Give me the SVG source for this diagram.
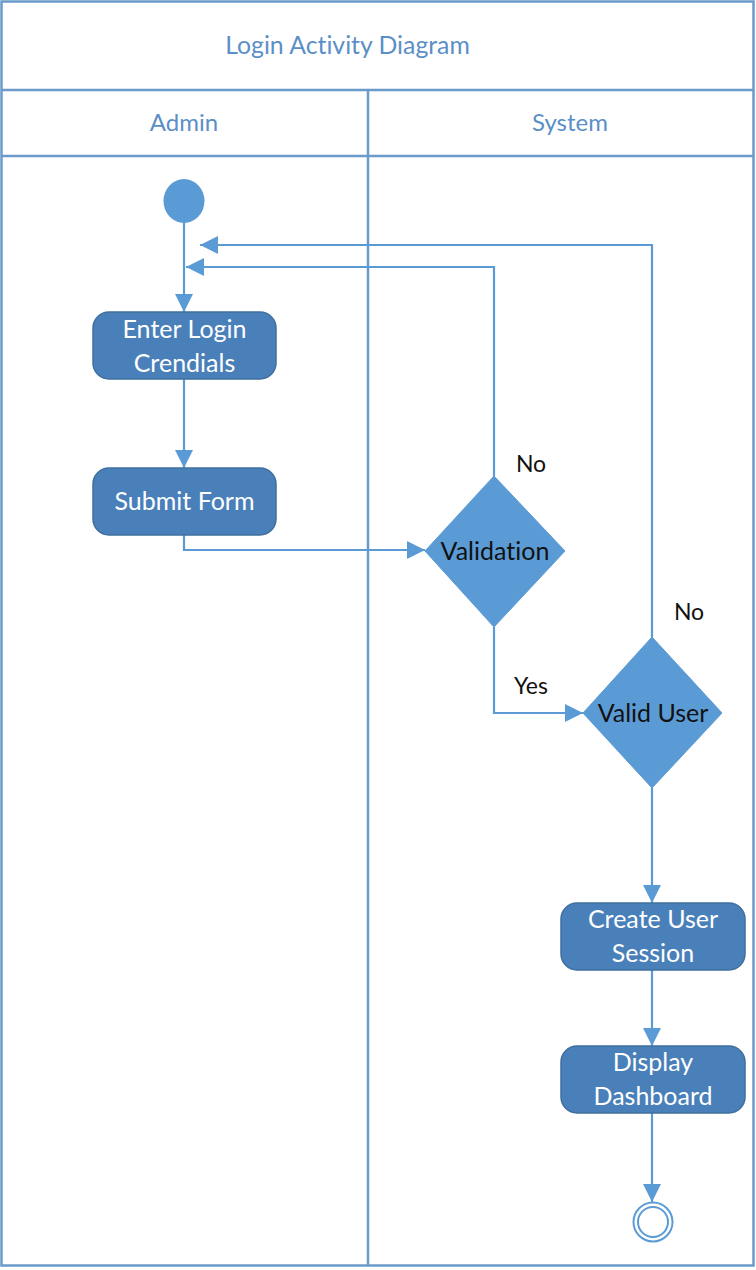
<svg xmlns="http://www.w3.org/2000/svg" width="756" height="1270" viewBox="0 0 756 1270">
<defs>
<style>
text{font-variant-ligatures:none}
.frame{fill:none;stroke:#6a9bcb;stroke-width:2.5}
.hdr{font-family:Lato,"Liberation Sans",sans-serif;font-size:24px;fill:#5b8fc7;text-anchor:middle}
.ttl{font-size:24.8px}
.act{fill:#4a80b9;stroke:#3f6f9f;stroke-width:1.5}
.actt{font-family:Lato,"Liberation Sans",sans-serif;font-size:25px;fill:#ffffff;text-anchor:middle}
.dec{fill:#5b9bd5;stroke:#5b9bd5;stroke-width:1}
.dect{font-family:Lato,"Liberation Sans",sans-serif;font-size:25px;fill:#111111;text-anchor:middle}
.lbl{font-family:Lato,"Liberation Sans",sans-serif;font-size:23px;fill:#111111;text-anchor:middle}
.conn{fill:none;stroke:#5b9bd5;stroke-width:2.2}
</style>
<marker id="arrb" viewBox="0 0 10 10" refX="10" refY="5" markerWidth="18" markerHeight="18" markerUnits="userSpaceOnUse" orient="auto">
<path d="M0,0 L10,5 L0,10 z" fill="#5b9bd5"/>
</marker>
</defs>
<rect width="756" height="1270" fill="#ffffff"/>
<g id="swimlanes">
<rect class="frame" x="1.5" y="1.5" width="752" height="1264"/>
<line class="frame" x1="1.5" y1="90" x2="753.5" y2="90"/>
<line class="frame" x1="1.5" y1="156" x2="753.5" y2="156"/>
<line class="frame" x1="368" y1="90" x2="368" y2="1265.5"/>
<text class="hdr ttl" x="347.5" y="54">Login Activity Diagram</text>
<text class="hdr" x="184" y="131">Admin</text>
<text class="hdr" x="570" y="131">System</text>
</g>
<g id="connectors">
<path class="conn" d="M184,222 L184,312" marker-end="url(#arrb)"/>
<path class="conn" d="M184,379 L184,468" marker-end="url(#arrb)"/>
<path class="conn" d="M184,535 L184,550 L425,550" marker-end="url(#arrb)"/>
<path class="conn" d="M494,476 L494,267 L186,267" marker-end="url(#arrb)"/>
<path class="conn" d="M652,637 L652,245 L200,245" marker-end="url(#arrb)"/>
<path class="conn" d="M494,627 L494,713 L583,713" marker-end="url(#arrb)"/>
<path class="conn" d="M652,788 L652,903" marker-end="url(#arrb)"/>
<path class="conn" d="M652,970 L652,1046" marker-end="url(#arrb)"/>
<path class="conn" d="M652,1113 L652,1202" marker-end="url(#arrb)"/>
<text class="lbl" x="531" y="472">No</text>
<text class="lbl" x="531" y="694">Yes</text>
<text class="lbl" x="689" y="620">No</text>
</g>
<g id="start">
<ellipse cx="184" cy="201" rx="20.5" ry="22" fill="#5b9bd5"/>
</g>
<g id="enter-login">
<rect class="act" x="93" y="312" width="183" height="67" rx="16"/>
<text class="actt" x="184.5" y="338">Enter Login</text>
<text class="actt" x="184.5" y="372">Crendials</text>
</g>
<g id="submit-form">
<rect class="act" x="93" y="468" width="183" height="67" rx="16"/>
<text class="actt" x="184.5" y="510">Submit Form</text>
</g>
<g id="validation">
<polygon class="dec" points="494,476 565,551 494,627 425,551"/>
<text class="dect" x="495" y="560">Validation</text>
</g>
<g id="valid-user">
<polygon class="dec" points="652,637 722,713 652,788 583,713"/>
<text class="dect" x="653" y="722">Valid User</text>
</g>
<g id="create-session">
<rect class="act" x="561" y="903" width="184" height="67" rx="16"/>
<text class="actt" x="653" y="928">Create User</text>
<text class="actt" x="653" y="962">Session</text>
</g>
<g id="display-dashboard">
<rect class="act" x="561" y="1046" width="184" height="67" rx="16"/>
<text class="actt" x="653" y="1071">Display</text>
<text class="actt" x="653" y="1105">Dashboard</text>
</g>
<g id="end">
<circle cx="653" cy="1222" r="19.5" fill="none" stroke="#5b9bd5" stroke-width="2"/>
<circle cx="653" cy="1222" r="15" fill="none" stroke="#5b9bd5" stroke-width="2"/>
</g>
</svg>
